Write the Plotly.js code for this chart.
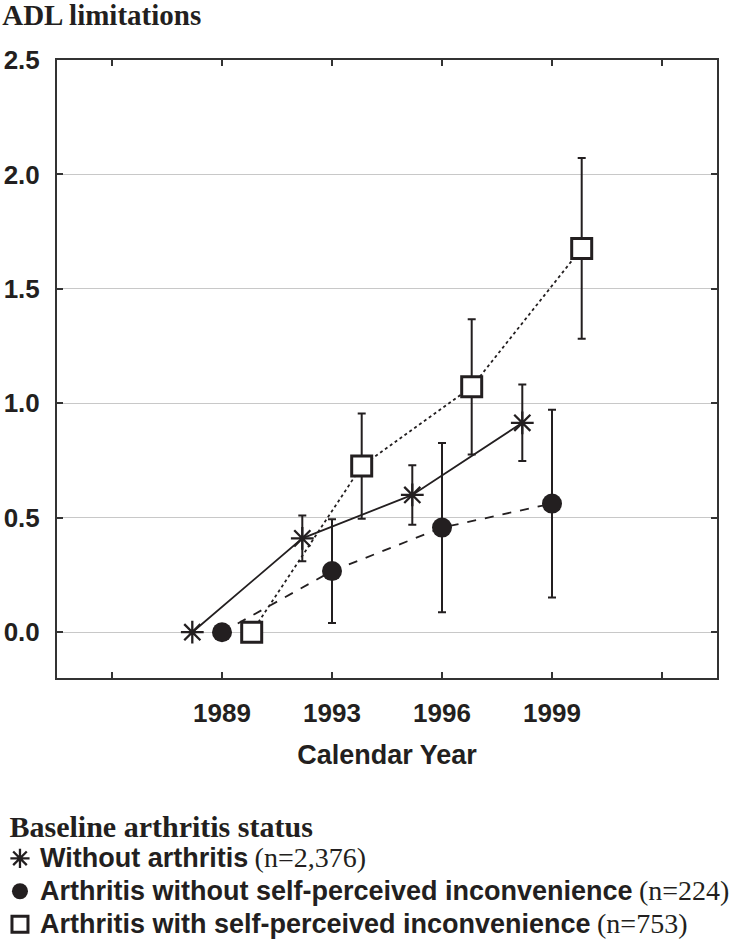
<!DOCTYPE html>
<html>
<head>
<meta charset="utf-8">
<script src="https://cdn.plot.ly/plotly-3.0.1.min.js"></script>
<style>
  html, body { margin: 0; padding: 0; background: #fff; }
  #myPlot { width: 738px; height: 941px; }
</style>
</head>
<body>
<div id="myPlot"></div>
<script>
// survey waves
var years = ["1989", "1993", "1996", "1999"];

// mean ADL limitations and error bar half-lengths
var noArthMean = [0, 0.41, 0.60, 0.915];
var noArthErr = [0, 0.10, 0.13, 0.167];

var arthNoIncMean = [0, 0.267, 0.457, 0.562];
var arthNoIncErr = [0, 0.227, 0.37, 0.41];

var arthIncMean = [0, 0.726, 1.072, 1.677];
var arthIncErr = [0, 0.23, 0.295, 0.395];

var groupNames = ["Without arthritis", "Arthritis without self-perceived inconvenience", "Arthritis with self-perceived inconvenience"];
var groupN = ["(n=2,376)", "(n=224)", "(n=753)"];

var ink = "#231f20";
var sans = "Liberation Sans, Arial, sans-serif";
var serif = "Liberation Serif, Times New Roman, serif";

// groups sit side by side around each year slot
function xpos(offset) {
  var out = [];
  for (var i = 0; i < years.length; i++) {
    out.push(i + 1.5 + offset);
  }
  return out;
}

function errBar(arr) {
  return {type: "data", array: arr, visible: true, color: ink, thickness: 2, width: 4};
}

var styles = [
  {offset: -0.27, symbol: "asterisk-open", size: 19, fill: ink, lw: 2.3, dash: "solid"},
  {offset: 0, symbol: "circle", size: 20, fill: ink, lw: 0, dash: "dash"},
  {offset: 0.27, symbol: "square", size: 20, fill: "#ffffff", lw: 3, dash: "dot"}
];
var means = [noArthMean, arthNoIncMean, arthIncMean];
var errs = [noArthErr, arthNoIncErr, arthIncErr];

var data = [];
for (var g = 0; g < 3; g++) {
  var s = styles[g];
  data.push({
    x: xpos(s.offset), y: means[g],
    mode: "lines+markers",
    showlegend: false,
    line: {color: ink, width: 1.8, dash: s.dash},
    marker: {symbol: s.symbol, size: s.size, color: s.fill, line: {color: ink, width: s.lw}},
    error_y: errBar(errs[g]),
    hoverinfo: "skip"
  });
}
// legend entries show the symbol only
for (var g = 0; g < 3; g++) {
  var s = styles[g];
  data.push({
    x: [null], y: [null],
    mode: "markers",
    name: "<span style='font-size:27px'><b>" + groupNames[g] + "</b></span> <span style='font-family:" + serif + ";font-size:28px'>" + groupN[g] + "</span>",
    marker: {symbol: s.symbol, size: 16, color: s.fill, line: {color: ink, width: s.lw}},
    error_y: errBar([0.1])
  });
}

var layout = {
  width: 738, height: 941,
  margin: {l: 57, r: 21, t: 60, b: 263, autoexpand: false},
  paper_bgcolor: "#fff", plot_bgcolor: "#fff",
  font: {family: sans, color: ink},
  title: {
    text: "<b>ADL limitations</b>",
    font: {family: serif, size: 29, color: ink},
    xref: "container", yref: "container",
    x: 0.003, xanchor: "left", y: 0.995, yanchor: "top"
  },
  xaxis: {
    range: [0, 6],
    tickvals: [0.5, 1.5, 2.5, 3.5, 4.5, 5.5],
    ticktext: ["", years[0], years[1], years[2], years[3], ""],
    ticks: "inside", ticklen: 6, tickwidth: 2, tickcolor: "#333",
    showline: true, linecolor: "#333", linewidth: 2, mirror: "ticks",
    showgrid: false, zeroline: false, automargin: false,
    tickfont: {family: sans, size: 26, weight: "bold", color: ink},
    ticklabelstandoff: 11,
    title: {text: "<b>Calendar Year</b>", font: {family: sans, size: 27, color: ink}, standoff: 18}
  },
  yaxis: {
    range: [-0.2, 2.5],
    tickvals: [0, 0.5, 1, 1.5, 2, 2.5],
    ticktext: ["0.0", "0.5", "1.0", "1.5", "2.0", "2.5"],
    ticks: "inside", ticklen: 6, tickwidth: 2, tickcolor: "#333",
    showline: true, linecolor: "#333", linewidth: 2, mirror: "ticks",
    showgrid: true, gridcolor: "#c8c8c8", gridwidth: 1, zeroline: false, automargin: false,
    tickfont: {family: sans, size: 26, weight: "bold", color: ink},
    ticklabelstandoff: 10
  },
  showlegend: true,
  legend: {
    x: -0.0864, xanchor: "left", y: -0.194, yanchor: "top",
    bgcolor: "rgba(0,0,0,0)", borderwidth: 0,
    font: {family: sans, size: 23, color: ink},
    title: {text: "&nbsp;<b>Baseline arthritis status</b>", font: {family: serif, size: 30, color: ink}},
    tracegroupgap: 0, itemwidth: 30
  }
};

Plotly.newPlot("myPlot", data, layout, {displayModeBar: false, staticPlot: true});
</script>
</body>
</html>
